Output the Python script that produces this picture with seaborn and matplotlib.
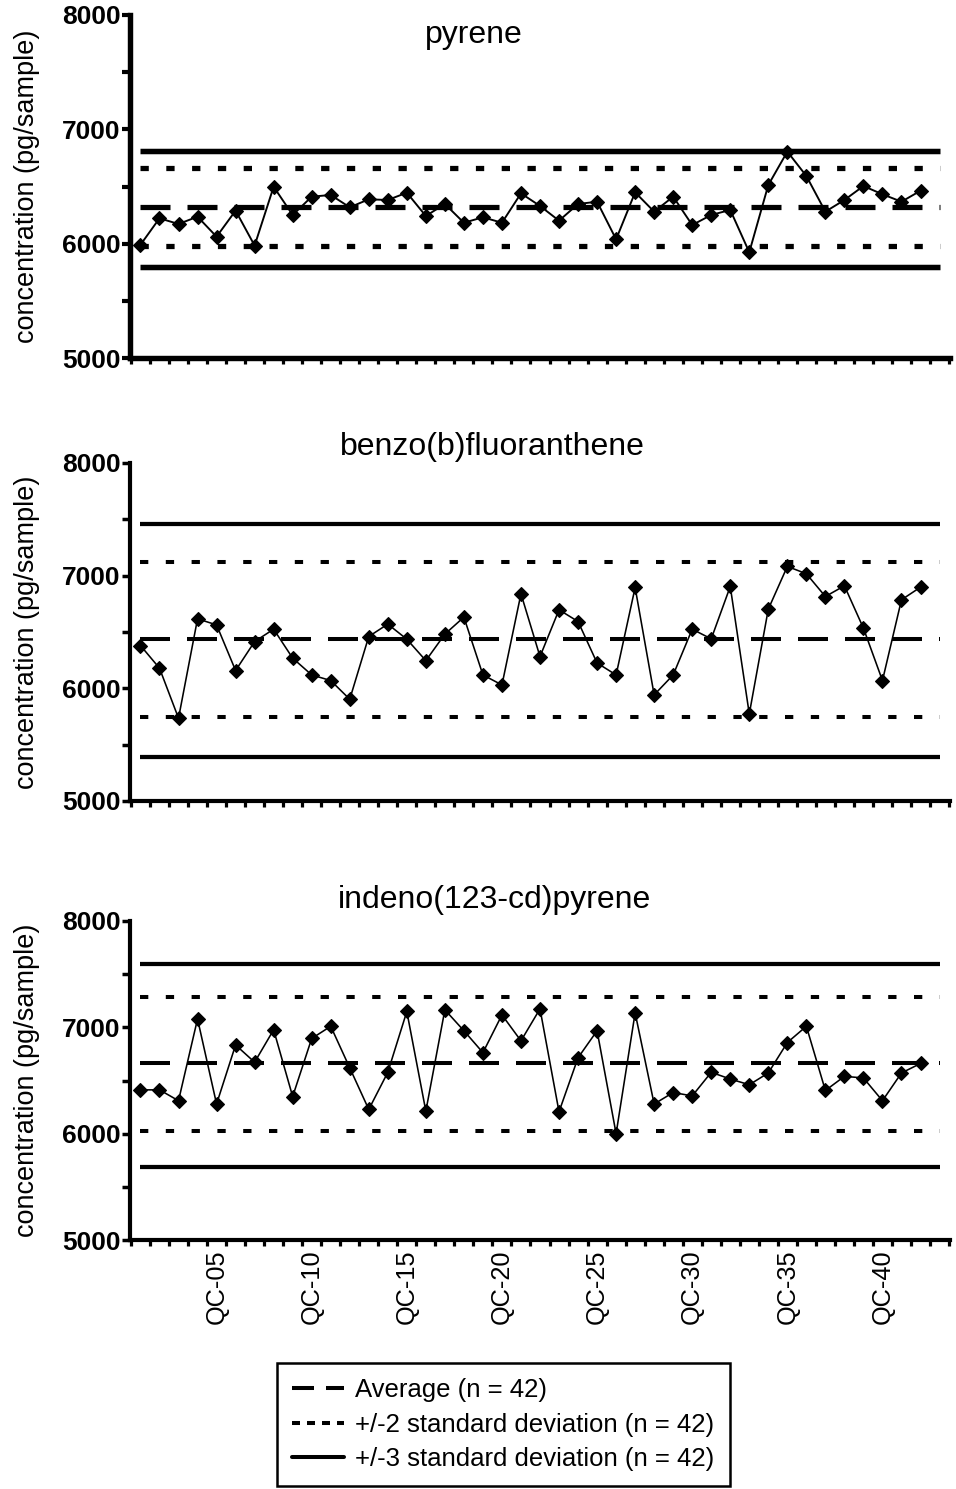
import numpy as np
import pandas as pd
import matplotlib
matplotlib.use("Agg")
import matplotlib.pyplot as plt
import seaborn as sns
from matplotlib.lines import Line2D
from matplotlib.ticker import MultipleLocator, FixedLocator

# ---------------- data ----------------
samples = [f"QC-{i:02d}" for i in range(1, 43)]
shown_labels = ["QC-05", "QC-10", "QC-15", "QC-20", "QC-25", "QC-30", "QC-35", "QC-40"]

compounds = ["pyrene", "benzo(b)fluoranthene", "indeno(123-cd)pyrene"]

pyrene = [5990, 6222, 6172, 6236, 6061, 6289, 5983, 6498, 6251, 6411,
          6426, 6318, 6388, 6382, 6446, 6242, 6347, 6183, 6231, 6183,
          6440, 6330, 6201, 6347, 6367, 6038, 6449, 6280, 6411, 6163,
          6251, 6295, 5925, 6513, 6805, 6592, 6280, 6382, 6504, 6432,
          6367, 6463]
benzo_b_fluoranthene = [6380, 6179, 5735, 6617, 6563, 6158, 6415, 6525, 6268, 6119,
                        6069, 5903, 6460, 6570, 6436, 6246, 6481, 6632, 6119, 6030,
                        6839, 6282, 6697, 6593, 6225, 6119, 6895, 5942, 6119, 6525,
                        6439, 6904, 5773, 6703, 7082, 7017, 6815, 6910, 6534, 6069,
                        6786, 6898]
indeno_pyrene = [6412, 6412, 6310, 7079, 6279, 6834, 6672, 6977, 6349, 6895,
                 7010, 6619, 6228, 6577, 7149, 6212, 7165, 6968, 6762, 7117,
                 6873, 7174, 6206, 6714, 6968, 6000, 7136, 6279, 6387, 6355,
                 6577, 6514, 6460, 6571, 6857, 7010, 6406, 6539, 6524, 6310,
                 6571, 6660]

average = [6318, 6436, 6660]
sd2_low = [5983, 5746, 6025]
sd2_high = [6659, 7120, 7286]
sd3_low = [5799, 5394, 5691]
sd3_high = [6813, 7461, 7594]

legend_labels = ["Average (n = 42)",
                 "+/-2 standard deviation (n = 42)",
                 "+/-3 standard deviation (n = 42)"]

series = [pyrene, benzo_b_fluoranthene, indeno_pyrene]

# ---------------- style ----------------
sns.set_theme(style="ticks")
plt.rcParams['font.family'] = ['Liberation Sans', 'DejaVu Sans']
plt.rcParams['lines.scale_dashes'] = False
for key in ['text.color', 'axes.labelcolor', 'xtick.color', 'ytick.color', 'axes.edgecolor']:
    plt.rcParams[key] = 'black'

W, H = 956, 1489
fig = plt.figure(figsize=(W / 100, H / 100), dpi=100)

def fx(px):
    return px / W

def fy(px):
    return 1 - px / H

# pixel boxes: (top, bottom) of each panel
boxes = [(15, 358), (463, 801), (921, 1240)]
scales = [1.3, 1.0, 1.0]
title_pos = [(474, 35), (492, 447), (494, 900)]
left_px, right_px = 130, 950

px2pt = 0.72
avg_dash = (0, (30 * px2pt, 17 * px2pt))
sd2_dash = (0, (8.3 * px2pt, 17.5 * px2pt))

n = len(samples)
xpos = np.arange(n)

for i in range(3):
    top, bot = boxes[i]
    s = scales[i]
    ax = fig.add_axes([fx(left_px), fy(bot), fx(right_px - left_px), (bot - top) / H])
    df = pd.DataFrame({"pos": xpos, "value": series[i]})

    lw_ctrl = 2.9 * s
    ax.hlines([sd3_low[i], sd3_high[i]], 0, n, colors="black", linewidth=lw_ctrl * 1.05,
              linestyles="solid", zorder=2)
    ax.hlines([sd2_low[i], sd2_high[i]], 0, n, colors="black", linewidth=lw_ctrl,
              linestyles=[sd2_dash], zorder=2)
    ax.hlines([average[i]], 0, n, colors="black", linewidth=lw_ctrl,
              linestyles=[avg_dash], zorder=2)

    sns.lineplot(data=df, x="pos", y="value", ax=ax, color="black",
                 linewidth=1.15 * (1.2 if i == 0 else 1.0), marker="D",
                 markersize=7.5, markeredgecolor="black", markerfacecolor="black",
                 markeredgewidth=0.8, zorder=3)

    ax.set_xlim(-0.55, n + 0.55)
    ax.set_ylim(5000, 8000)
    ax.set_xlabel("")
    ax.set_ylabel("concentration (pg/sample)", fontsize=19.5, color="black")
    ax.yaxis.set_label_coords(-0.11, 0.5)

    for side in ["top", "right"]:
        ax.spines[side].set_visible(False)
    spw = 3.0 * (1.3 if i == 0 else 1.0)
    for side in ["left", "bottom"]:
        ax.spines[side].set_linewidth(spw)
        ax.spines[side].set_color("black")

    ax.yaxis.set_major_locator(MultipleLocator(1000))
    ax.yaxis.set_minor_locator(MultipleLocator(500))
    ax.tick_params(axis="y", which="both", direction="out", length=5.5,
                   width=2.5 * (1.2 if i == 0 else 1.0),
                   color="black", labelcolor="black", labelsize=19, pad=1.5)
    for lab in ax.get_yticklabels():
        lab.set_fontweight("bold")

    # x: boundary ticks (minor), label positions (major)
    ax.xaxis.set_minor_locator(FixedLocator(np.arange(-0.5, n + 1.0, 1.0)))
    ax.tick_params(axis="x", which="minor", direction="out", length=4, width=2.3, color="black")
    if i == 2:
        label_pos = [samples.index(l) for l in shown_labels]
        ax.set_xticks(label_pos)
        ax.set_xticklabels(shown_labels, rotation=90, fontsize=18.3, color="black")
        ax.tick_params(axis="x", which="major", length=0, pad=7)
    else:
        ax.set_xticks([])

    fig.text(fx(title_pos[i][0]), fy(title_pos[i][1]), compounds[i], ha="center", va="center",
             fontsize=23, color="black")

handles = [
    Line2D([], [], color="black", linewidth=2.9, linestyle=(0, (22 * px2pt, 12 * px2pt))),
    Line2D([], [], color="black", linewidth=2.9, linestyle=(0, (8 * px2pt, 7 * px2pt))),
    Line2D([], [], color="black", linewidth=2.9, linestyle="solid"),
]
leg = fig.legend(handles=handles, labels=legend_labels, loc="upper left",
                 bbox_to_anchor=(fx(277), fy(1363)), frameon=True, fancybox=False,
                 edgecolor="black", framealpha=1, fontsize=18.5, handlelength=2.0,
                 handletextpad=0.45, labelspacing=0.4, borderpad=0.6,
                 borderaxespad=0)
leg.get_frame().set_linewidth(1.8)
for t in leg.get_texts():
    t.set_color("black")

fig.savefig("out.png", dpi=100)
